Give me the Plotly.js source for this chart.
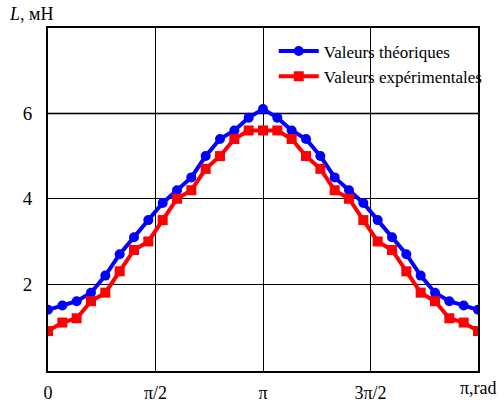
<!DOCTYPE html>
<html>
<head>
<meta charset="utf-8">
<script src="https://cdn.plot.ly/plotly-3.0.1.min.js"></script>
<style>
  html, body { margin: 0; padding: 0; background: #fff; }
  #chart { width: 504px; height: 404px; }
</style>
</head>
<body>
<div id="chart"></div>
<script>
// Rotor angle, degrees (0 .. 2π in 12° steps)
const angleDeg = [0, 12, 24, 36, 48, 60, 72, 84, 96, 108, 120, 132, 144, 156, 168, 180,
                  192, 204, 216, 228, 240, 252, 264, 276, 288, 300, 312, 324, 336, 348, 360];

// Inductance L, mH
const theoretical = [1.4, 1.5, 1.6, 1.8, 2.2, 2.7, 3.1, 3.5, 3.9, 4.2, 4.5, 5.0, 5.4, 5.6, 5.9, 6.1,
                     5.9, 5.6, 5.4, 5.0, 4.5, 4.2, 3.9, 3.5, 3.1, 2.7, 2.2, 1.8, 1.6, 1.5, 1.4];
const experimental = [0.9, 1.1, 1.2, 1.6, 1.8, 2.3, 2.8, 3.0, 3.5, 4.0, 4.2, 4.7, 5.0, 5.4, 5.6, 5.6,
                      5.6, 5.4, 5.0, 4.7, 4.2, 4.0, 3.5, 3.0, 2.8, 2.3, 1.8, 1.6, 1.2, 1.1, 0.9];

const xTickVals = [0, 90, 180, 270];
const xTickText = ['0', 'π/2', 'π', '3π/2'];
const yTickVals = [2, 4, 6];

const serif = "'Liberation Serif', 'Times New Roman', serif";

const traces = [
  {
    x: angleDeg, y: theoretical, name: 'Valeurs théoriques',
    type: 'scatter', mode: 'lines+markers', legendgroup: 'a',
    line: { color: '#0000ff', width: 4 },
    marker: { color: '#0000ff', symbol: 'circle', size: 10 }
  },
  {
    x: angleDeg, y: experimental, name: 'Valeurs expérimentales',
    type: 'scatter', mode: 'lines+markers', legendgroup: 'b',
    line: { color: '#ff0000', width: 4 },
    marker: { color: '#ff0000', symbol: 'square', size: 10 }
  }
];

const layout = {
  width: 504, height: 404,
  margin: { l: 48, r: 26, t: 28, b: 33 },
  paper_bgcolor: '#ffffff', plot_bgcolor: '#ffffff',
  font: { family: serif, color: '#000', size: 18 },
  showlegend: true,
  legend: {
    x: 0.525, y: 0.984, xanchor: 'left', yanchor: 'top',
    bgcolor: 'rgba(0,0,0,0)', borderwidth: 0,
    font: { family: serif, size: 17, color: '#000', weight: 'normal' },
    traceorder: 'grouped', tracegroupgap: 0,
    itemwidth: 40
  },
  xaxis: {
    range: [0, 360], fixedrange: true,
    tickvals: xTickVals, ticktext: xTickText,
    ticks: '', showgrid: true, gridcolor: '#000', gridwidth: 1,
    showline: true, linecolor: '#000', linewidth: 2, mirror: true,
    zeroline: false, ticklabelstandoff: 4,
    tickfont: { family: serif, size: 18, color: '#000' }
  },
  yaxis: {
    range: [-0.035, 8], fixedrange: true,
    tickvals: yTickVals,
    ticks: '', showgrid: true, gridcolor: '#000', gridwidth: 1,
    showline: true, linecolor: '#000', linewidth: 2, mirror: true,
    zeroline: false, ticklabelstandoff: 10,
    tickfont: { family: serif, size: 19, color: '#000' }
  },
  shapes: [
    { type: 'line', xref: 'paper', yref: 'y', x0: 0, x1: 1, y0: 6, y1: 6,
      layer: 'below', line: { color: '#707070', width: 2 } }
  ],
  annotations: [
    { text: '<i>L</i>, мН', xref: 'paper', yref: 'paper', x: -0.095, y: 1.0,
      xanchor: 'left', yanchor: 'bottom', showarrow: false, yshift: 2,
      font: { family: serif, size: 18, color: '#000' } },
    { text: 'π,rad', xref: 'x', yref: 'paper', x: 360, y: 0,
      xanchor: 'center', yanchor: 'top', showarrow: false, yshift: -5,
      font: { family: serif, size: 18, color: '#000' } }
  ]
};

Plotly.newPlot('chart', traces, layout, { displayModeBar: false, staticPlot: true });
</script>
</body>
</html>
